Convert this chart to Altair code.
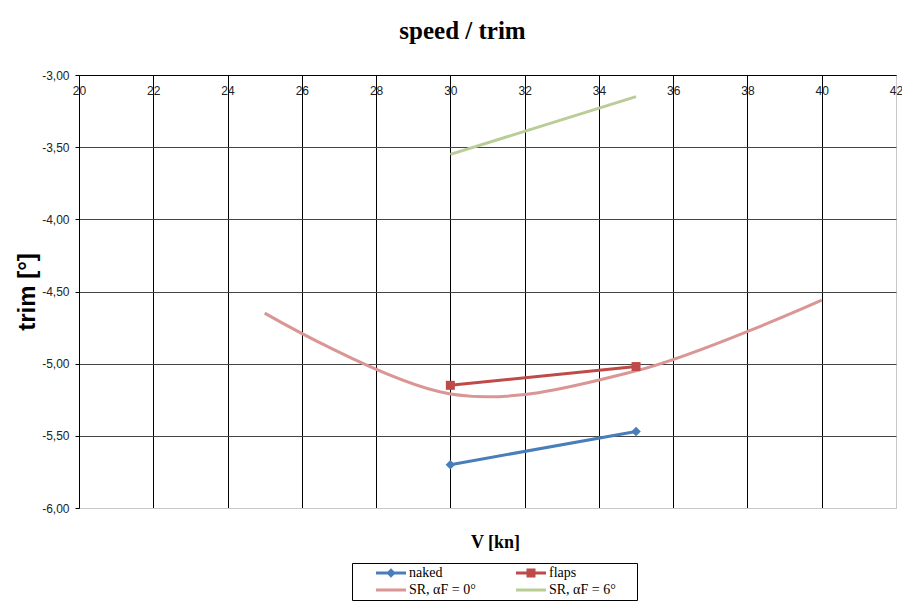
import altair as alt
import pandas as pd

# ---- data ----
series_names = ["naked", "flaps", "SR, αF = 0°", "SR, αF = 6°"]
series_colors = ["#4A7EBB", "#BE4B48", "#D99694", "#B9CD96"]

naked_v = [30, 35]
naked_trim = [-5.70, -5.47]

flaps_v = [30, 35]
flaps_trim = [-5.15, -5.02]

sr0_v = [25, 30, 35, 40]
sr0_trim = [-4.65, -5.21, -5.05, -4.56]

sr6_v = [30, 35]
sr6_trim = [-3.55, -3.15]

x_ticks = [20, 22, 24, 26, 28, 30, 32, 34, 36, 38, 40, 42]
y_ticks = [-6.0, -5.5, -5.0, -4.5, -4.0, -3.5, -3.0]

# legend symbols: line with marker (custom paths); trailing moveTo widens the entry
legend_paths = [
    "M-3,-0.3H3V0.3H-3Z M0,-0.95L0.95,0L0,0.95L-0.95,0Z M20.6,0",
    "M-3,-0.3H3V0.3H-3Z M-0.9,-0.9H0.9V0.9H-0.9Z M20.6,0",
    "M-3,-0.3H3V0.3H-3Z M20.6,0",
    "M-3,-0.3H3V0.3H-3Z M20.6,0",
]


def frame(name, xs, ys):
    return pd.DataFrame({"V": xs, "trim": ys, "series": name})


df_naked = frame(series_names[0], naked_v, naked_trim)
df_flaps = frame(series_names[1], flaps_v, flaps_trim)
df_sr0 = frame(series_names[2], sr0_v, sr0_trim)
df_sr6 = frame(series_names[3], sr6_v, sr6_trim)
df_leg = pd.DataFrame({"V": [0] * 4, "trim": [0] * 4, "series": series_names})

x_scale = alt.Scale(domain=[20, 42], nice=False, zero=False)
y_scale = alt.Scale(domain=[-6, -3], nice=False, zero=False)

x_axis = alt.Axis(
    orient="top", values=x_ticks, format="d", labelFlush=False,
    ticks=False, tickSize=0, labelPadding=-10, labelBaseline="top",
    domainColor="#000000", domainWidth=1,
    grid=True, gridWidth=1,
    gridColor={"condition": {"test": "datum.value == 42", "value": "#c8c8c8"}, "value": "#000000"},
    labelFont="Liberation Sans", labelFontSize=12, labelColor="#222222",
    title="V [kn]", titleFont="Liberation Serif", titleFontSize=18,
    titleFontWeight="bold", titleColor="#000000",
    titleX=416, titleY=467, titleBaseline="middle", titleAlign="center",
)

y_axis = alt.Axis(
    orient="left", values=y_ticks,
    labelExpr="replace(replace(format(datum.value, '.2f'), '.', ','), '\u2212', '-')",
    ticks=True, tickSize=4, tickColor="#000000", labelPadding=6,
    domainColor="#000000", domainWidth=1,
    grid=True, gridWidth=1,
    gridColor={"condition": {"test": "datum.value == -6", "value": "#c8c8c8"}, "value": "#444444"},
    labelFont="Liberation Sans", labelFontSize=12, labelColor="#222222",
    title="trim [°]", titleFont="Liberation Sans", titleFontSize=24,
    titleFontWeight="bold", titleColor="#000000",
    titleX=-52, titleY=216.5, titleAngle=270, titleBaseline="middle", titleAlign="center",
)

X = alt.X("V:Q", scale=x_scale, axis=x_axis)
Y = alt.Y("trim:Q", scale=y_scale, axis=y_axis)
Xn = alt.X("V:Q", scale=x_scale)
Yn = alt.Y("trim:Q", scale=y_scale)

sr0 = alt.Chart(df_sr0).mark_line(
    interpolate="cardinal", tension=0, color=series_colors[2], strokeWidth=3
).encode(x=X, y=Y)
sr6 = alt.Chart(df_sr6).mark_line(color=series_colors[3], strokeWidth=3).encode(x=Xn, y=Yn)
naked_line = alt.Chart(df_naked).mark_line(color=series_colors[0], strokeWidth=3).encode(x=Xn, y=Yn)
flaps_line = alt.Chart(df_flaps).mark_line(color=series_colors[1], strokeWidth=3).encode(x=Xn, y=Yn)
naked_pts = alt.Chart(df_naked).mark_point(
    shape="diamond", filled=True, size=90, color=series_colors[0], opacity=1
).encode(x=Xn, y=Yn)
flaps_pts = alt.Chart(df_flaps).mark_point(
    shape="square", filled=True, size=81, color=series_colors[1], opacity=1
).encode(x=Xn, y=Yn)

legend = alt.Legend(
    orient="none", legendX=273, legendY=488, columns=2, direction="horizontal", title=None,
    labelFont="Liberation Serif", labelFontSize=14, labelColor="#000000",
    symbolSize=100, symbolStrokeWidth=0, symbolOffset=29, labelOffset=11,
    columnPadding=1, rowPadding=3, padding=3,
    strokeColor="#000000", fillColor="#ffffff", symbolOpacity=1,
)

leg = alt.Chart(df_leg).mark_point(filled=True, clip=True, opacity=1).encode(
    x=Xn, y=Yn,
    color=alt.Color("series:N", scale=alt.Scale(domain=series_names, range=series_colors), legend=legend),
    shape=alt.Shape("series:N", scale=alt.Scale(domain=series_names, range=legend_paths), legend=legend),
)

chart = alt.layer(sr0, sr6, naked_line, flaps_line, naked_pts, flaps_pts, leg).properties(
    width=817, height=433,
    autosize=alt.AutoSizeParams(type="none"),
    padding={"left": 71, "top": 67, "right": 6, "bottom": 93},
    title=alt.TitleParams(
        "speed / trim", font="Liberation Serif", fontSize=25, fontWeight="bold",
        color="#000000", anchor="middle", dx=-25, offset=25,
    ),
).configure_view(stroke="#c8c8c8").configure(background="#ffffff")

chart.save("out.html", embed_options={"renderer": "svg", "actions": False})
